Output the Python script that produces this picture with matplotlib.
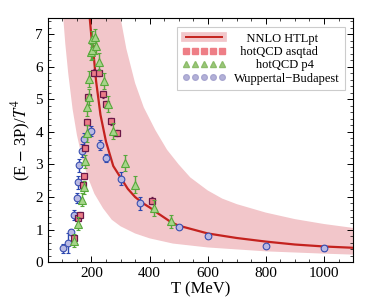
import numpy as np
import matplotlib
matplotlib.use("Agg")
import matplotlib.pyplot as plt
from matplotlib.lines import Line2D
from matplotlib.legend_handler import HandlerTuple

# ---- data ----
wb_T   = [103, 118, 130, 140, 149, 153, 158, 166, 175, 200, 229, 250, 300, 368, 500, 600, 800, 1000]
wb_val = [0.42, 0.58, 0.93, 1.45, 1.98, 2.45, 2.97, 3.42, 3.77, 4.02, 3.60, 3.20, 2.56, 1.80, 1.08, 0.80, 0.50, 0.43]
wb_err = [0.15, 0.30, 0.10, 0.15, 0.15, 0.20, 0.20, 0.20, 0.20, 0.15, 0.15, 0.12, 0.20, 0.20, 0.05, 0.05, 0.05, 0.10]

asq_T   = [141, 152, 159, 170, 175, 177, 183, 188, 210, 225, 240, 250, 267, 287, 408]
asq_val = [0.73, 1.36, 1.44, 2.37, 2.64, 3.50, 4.30, 5.06, 5.82, 5.82, 5.15, 4.84, 4.32, 3.96, 1.89]
asq_err = [0.10] * 15

p4_T   = [139, 154, 169, 175, 179, 183, 185, 190, 193, 198, 203, 201, 212, 214, 226, 243, 258, 275, 315, 350, 415, 473]
p4_val = [0.66, 1.18, 1.92, 2.30, 3.10, 3.95, 4.75, 5.06, 5.63, 6.45, 6.50, 6.85, 6.92, 6.64, 6.16, 5.56, 4.85, 4.02, 3.05, 2.38, 1.66, 1.25]
p4_err = [0.20, 0.20, 0.20, 0.20, 0.20, 0.25, 0.25, 0.25, 0.25, 0.25, 0.25, 0.25, 0.25, 0.25, 0.25, 0.25, 0.25, 0.25, 0.25, 0.25, 0.25, 0.20]

htl_T   = [193, 200, 205, 216, 231, 250, 275, 300, 325, 350, 375, 400, 425, 450, 475, 500, 600, 700, 800, 900, 1000, 1100]
htl_val = [7.6, 6.9, 6.6, 5.55, 4.52, 3.70, 2.95, 2.60, 2.25, 2.00, 1.82, 1.68, 1.52, 1.37, 1.22, 1.12, 0.88, 0.74, 0.63, 0.54, 0.48, 0.44]

up_T   = [298, 320, 350, 380, 420, 460, 500, 540, 600, 650, 700, 800, 900, 1000, 1100]
up_val = [7.6, 6.55, 5.50, 4.75, 4.05, 3.45, 3.00, 2.60, 2.20, 1.95, 1.78, 1.52, 1.32, 1.17, 1.05]
lo_T   = [102, 110, 120, 135, 150, 170, 190, 210, 240, 270, 300, 350, 400, 480, 600, 800, 1000, 1100]
lo_val = [7.6, 6.7, 5.8, 4.7, 3.9, 3.1, 2.55, 2.10, 1.65, 1.30, 1.10, 0.88, 0.73, 0.57, 0.45, 0.33, 0.26, 0.23]

legend_labels = ["NNLO HTLpt", "hotQCD asqtad", "hotQCD p4", "Wuppertal\u2212Budapest"]
label_indent = [4, 2, 7, 0]   # leading spaces to mimic centred legend text

# ---- style ----
plt.rcParams['font.family'] = ['Liberation Serif', 'DejaVu Serif']
plt.rcParams['mathtext.fontset'] = 'stix'

band_c = '#f2c6ca'
line_c = '#c4221e'
sq_face, sq_edge = '#ec7c88', '#6a1848'
tri_face, tri_edge = '#a6d58a', '#58a83c'
cir_face, cir_edge = '#b9b9e3', '#3a4fb0'

fig = plt.figure(figsize=(3.74, 3.08), dpi=100)
ax = fig.add_axes([0.128, 0.149, 0.816, 0.793])

# band
band_x = list(up_T) + list(lo_T[::-1])
band_y = list(up_val) + list(lo_val[::-1])
ax.fill(band_x, band_y, color=band_c, lw=0, zorder=1)
ax.plot(htl_T, htl_val, color=line_c, lw=1.6, zorder=2)

ax.errorbar(wb_T, wb_val, yerr=wb_err, fmt='o', ms=4.8, mfc=cir_face, mec=cir_edge,
            mew=0.8, ecolor='#2a46b0', elinewidth=1.0, capsize=1.2, zorder=3)
ax.errorbar(asq_T, asq_val, yerr=asq_err, fmt='s', ms=4.8, mfc=sq_face, mec=sq_edge,
            mew=0.9, ecolor=sq_edge, elinewidth=0.8, capsize=1.0, zorder=4)
ax.errorbar(p4_T, p4_val, yerr=p4_err, fmt='^', ms=5.2, mfc=tri_face, mec=tri_edge,
            mew=0.8, ecolor=tri_edge, elinewidth=1.0, capsize=1.2, zorder=5)

ax.set_xlim(50, 1100)
ax.set_ylim(0, 7.5)
ax.set_xticks([200, 400, 600, 800, 1000])
ax.set_yticks(range(0, 8))
ax.set_xticks(np.arange(100, 1100, 50), minor=True)
ax.set_yticks(np.arange(0, 7.5, 0.2), minor=True)
ax.tick_params(which='both', direction='in', top=True, right=True, labelsize=11)
ax.tick_params(which='major', length=4, width=0.7)
ax.tick_params(which='minor', length=2, width=0.5)
for s in ax.spines.values():
    s.set_linewidth(0.8)

ax.set_xlabel('T (MeV)', fontsize=12, labelpad=1)
ax.set_ylabel(r'(E $-$ 3P)/$T^4$', fontsize=12, labelpad=2)

h_htl = (Line2D([], [], color=band_c, lw=7), Line2D([], [], color=line_c, lw=1.4))
h_asq = Line2D([], [], ls='none', marker='s', ms=4, mfc='#ee7e86', mec='#ee7e86')
h_p4 = Line2D([], [], ls='none', marker='^', ms=4, mfc='#9cc87a', mec='#8cbc6a')
h_wb = Line2D([], [], ls='none', marker='o', ms=4, mfc='#b3b1d8', mec='#a8a6d0')
labels = [' ' * n + s for n, s in zip(label_indent, legend_labels)]
leg = ax.legend([h_htl, h_asq, h_p4, h_wb], labels,
                handler_map={tuple: HandlerTuple(ndivide=1)},
                numpoints=5, loc='upper right', bbox_to_anchor=(0.974, 0.962),
                borderaxespad=0, fontsize=9, handlelength=3.5, fancybox=False,
                framealpha=1, edgecolor='#cccccc', labelspacing=0.1,
                borderpad=0.45, handletextpad=0.6)
leg.get_frame().set_linewidth(0.8)

fig.savefig('out.png', dpi=100)
